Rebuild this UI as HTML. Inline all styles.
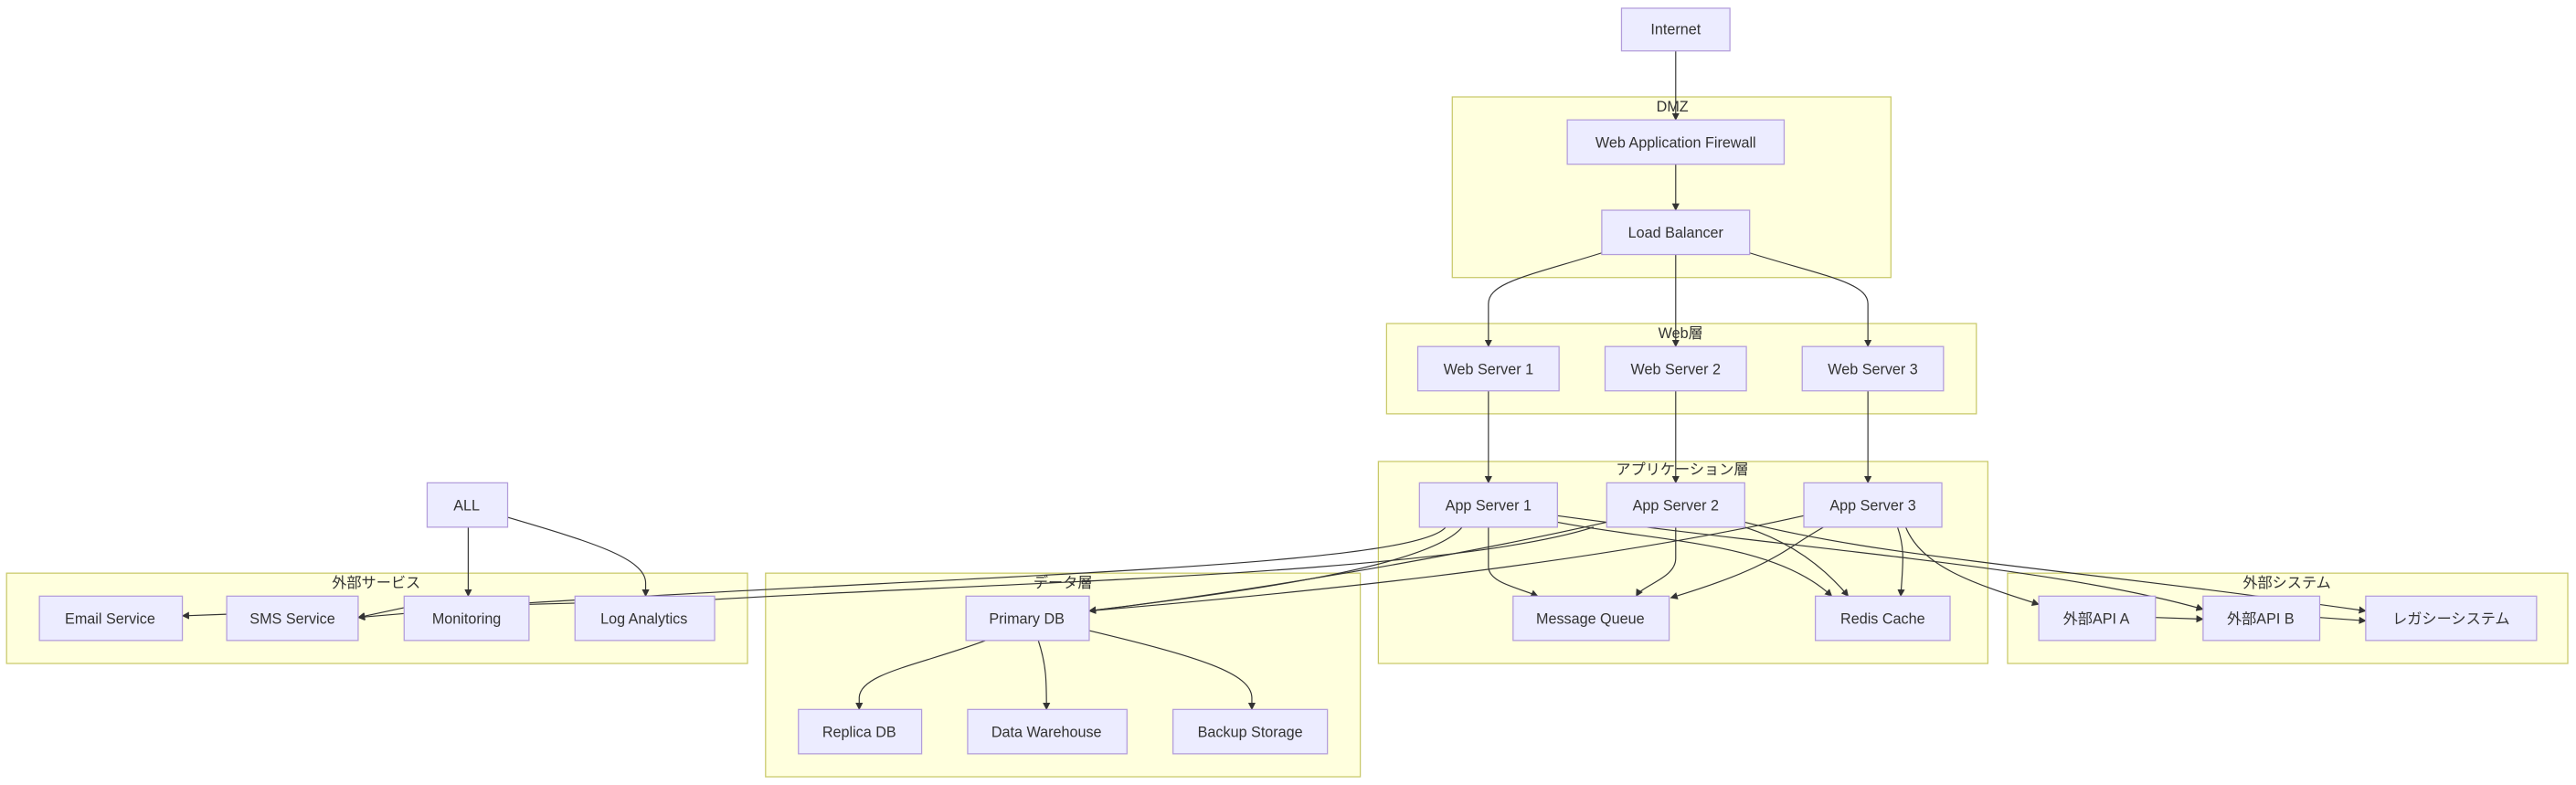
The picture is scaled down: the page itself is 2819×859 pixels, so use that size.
<!DOCTYPE html>
<html><head><meta charset="utf-8"><style>
html,body{margin:0;padding:0;background:#fff;}
svg{display:block;}
text{font-family:"Liberation Sans","Noto Sans CJK JP",sans-serif;font-size:9px;fill:#333;text-anchor:middle;dominant-baseline:central;}
.c{fill:#ffffde;stroke:#c9c96a;stroke-width:0.7;}
.n{fill:#ececff;stroke:#b39ddb;stroke-width:0.7;}
.e{fill:none;stroke:#333;stroke-width:0.65;}
</style></head><body>
<svg width="2819" height="859" viewBox="0 0 1568 478" preserveAspectRatio="none">
<defs><marker id="a" viewBox="0 0 10 10" refX="9" refY="5" markerWidth="7" markerHeight="7" orient="auto"><path d="M0,0L10,5L0,10z" fill="#333"/></marker></defs>
<rect class="c" x="884" y="59" width="267" height="110"/><text x="1018" y="65">DMZ</text>
<rect class="c" x="844" y="197" width="359" height="55"/><text x="1023" y="203">Web層</text>
<rect class="c" x="839" y="281" width="371" height="123"/><text x="1024" y="286">アプリケーション層</text>
<rect class="c" x="1222" y="349" width="341" height="55"/><text x="1392" y="355">外部システム</text>
<rect class="c" x="4" y="349" width="451" height="55"/><text x="229" y="355">外部サービス</text>
<rect class="c" x="466" y="349" width="362" height="124"/><text x="647" y="355">データ層</text>
<g class="e" marker-end="url(#a)">
<path d="M1020,31V73"/>
<path d="M1020,100V128"/>
<path d="M975,154C930,168 906,172 906,185V211"/>
<path d="M1020,155V211"/>
<path d="M1065,154C1110,168 1137,172 1137,185V211"/>
<path d="M906,238V294"/>
<path d="M1020,238V294"/>
<path d="M1137,238V294"/>
<path d="M906,321V345C906,355 925,358 936,363"/>
<path d="M1020,321V340C1020,352 1000,356 996,363"/>
<path d="M1110,321C1085,335 1080,345 1017,364"/>
<path d="M948,318C1010,330 1080,330 1115,363"/>
<path d="M1062,321C1090,330 1110,345 1125,363"/>
<path d="M1155,321C1160,335 1158,345 1157,363"/>
<path d="M890,321C870,345 760,360 663,372"/>
<path d="M978,318C880,340 760,360 663,372"/>
<path d="M1098,314C960,345 780,362 663,372"/>
<path d="M1160,321C1170,345 1200,355 1241,368"/>
<path d="M948,314C1100,335 1250,345 1341,371"/>
<path d="M1062,318C1150,340 1250,345 1440,372"/>
<path d="M1312,376L1341,377"/>
<path d="M1412,376L1440,378"/>
<path d="M880,321C860,345 600,350 323,367L218,376"/>
<path d="M970,321C880,350 600,355 435,365L246,370L218,376"/>
<path d="M138,374L111,375"/>
<path d="M285,321V363"/>
<path d="M309,315C360,330 393,340 393,355V363"/>
<path d="M600,390C560,405 523,410 523,425V432"/>
<path d="M632,390C637,405 637,415 637,432"/>
<path d="M663,384C730,400 762,410 762,425V432"/>
</g>
<g>
<rect class="n" x="987" y="5" width="66" height="26"/><text x="1020" y="18">Internet</text>
<rect class="n" x="954" y="73" width="132" height="27"/><text x="1020" y="87">Web Application Firewall</text>
<rect class="n" x="975" y="128" width="90" height="27"/><text x="1020" y="142">Load Balancer</text>
<rect class="n" x="863" y="211" width="86" height="27"/><text x="906" y="225">Web Server 1</text>
<rect class="n" x="977" y="211" width="86" height="27"/><text x="1020" y="225">Web Server 2</text>
<rect class="n" x="1097" y="211" width="86" height="27"/><text x="1140" y="225">Web Server 3</text>
<rect class="n" x="864" y="294" width="84" height="27"/><text x="906" y="308">App Server 1</text>
<rect class="n" x="978" y="294" width="84" height="27"/><text x="1020" y="308">App Server 2</text>
<rect class="n" x="1098" y="294" width="84" height="27"/><text x="1140" y="308">App Server 3</text>
<rect class="n" x="921" y="363" width="95" height="27"/><text x="968" y="377">Message Queue</text>
<rect class="n" x="1105" y="363" width="82" height="27"/><text x="1146" y="377">Redis Cache</text>
<rect class="n" x="1241" y="363" width="71" height="27"/><text x="1276" y="377">外部API A</text>
<rect class="n" x="1341" y="363" width="71" height="27"/><text x="1376" y="377">外部API B</text>
<rect class="n" x="1440" y="363" width="104" height="27"/><text x="1492" y="377">レガシーシステム</text>
<rect class="n" x="24" y="363" width="87" height="27"/><text x="67" y="377">Email Service</text>
<rect class="n" x="138" y="363" width="80" height="27"/><text x="178" y="377">SMS Service</text>
<rect class="n" x="246" y="363" width="76" height="27"/><text x="284" y="377">Monitoring</text>
<rect class="n" x="350" y="363" width="85" height="27"/><text x="392" y="377">Log Analytics</text>
<rect class="n" x="260" y="294" width="49" height="27"/><text x="284" y="308">ALL</text>
<rect class="n" x="588" y="363" width="75" height="27"/><text x="625" y="377">Primary DB</text>
<rect class="n" x="486" y="432" width="75" height="27"/><text x="523" y="446">Replica DB</text>
<rect class="n" x="589" y="432" width="97" height="27"/><text x="637" y="446">Data Warehouse</text>
<rect class="n" x="714" y="432" width="94" height="27"/><text x="761" y="446">Backup Storage</text>
</g>
</svg>
</body></html>
